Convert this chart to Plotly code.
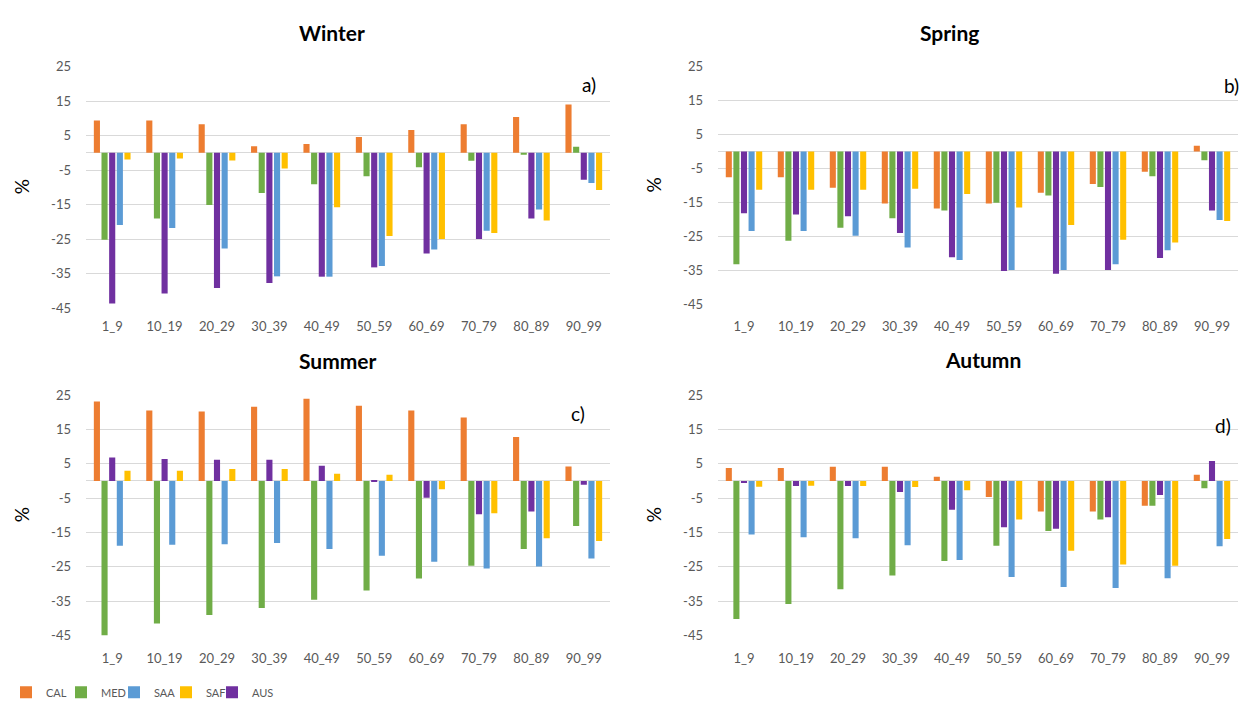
import plotly.graph_objects as go

# Age classes on the category axis
age_classes = ["1_9", "10_19", "20_29", "30_39", "40_49",
               "50_59", "60_69", "70_79", "80_89", "90_99"]

# Percentage change per region, one list per season
winter_cal = [9.4, 9.4, 8.3, 1.9, 2.6, 4.6, 6.6, 8.3, 10.4, 14.0]
winter_med = [-25.2, -19.0, -15.1, -11.6, -9.1, -6.8, -4.2, -2.3, -0.4, 1.8]
winter_aus = [-43.7, -40.8, -39.2, -37.7, -35.9, -33.2, -29.2, -25.0, -19.0, -7.8]
winter_saa = [-20.9, -21.8, -27.7, -35.8, -35.9, -32.8, -28.0, -22.6, -16.4, -8.7]
winter_saf = [-1.9, -1.6, -2.2, -4.5, -15.8, -24.1, -25.0, -23.2, -19.6, -10.8]

spring_cal = [-7.6, -7.6, -10.7, -15.3, -16.8, -15.3, -12.2, -9.6, -6.0, 1.7]
spring_med = [-33.2, -26.3, -22.5, -19.7, -17.4, -15.1, -13.0, -10.5, -7.3, -2.6]
spring_aus = [-18.2, -18.6, -19.1, -24.0, -31.2, -35.2, -36.0, -34.9, -31.4, -17.4]
spring_saa = [-23.4, -23.4, -24.8, -28.3, -32.0, -34.9, -34.9, -33.2, -29.1, -20.2]
spring_saf = [-11.3, -11.3, -11.3, -11.0, -12.5, -16.5, -21.7, -26.0, -26.8, -20.5]

summer_cal = [23.1, 20.5, 20.2, 21.6, 23.9, 21.9, 20.5, 18.5, 12.8, 4.2]
summer_med = [-45.0, -41.5, -39.0, -37.0, -34.6, -31.9, -28.4, -24.7, -19.8, -13.1]
summer_aus = [6.8, 6.4, 6.2, 6.2, 4.4, -0.3, -4.9, -9.7, -8.9, -1.1]
summer_saa = [-18.9, -18.6, -18.4, -18.1, -19.8, -21.8, -23.5, -25.5, -24.9, -22.6]
summer_saf = [3.0, 3.0, 3.5, 3.5, 2.1, 1.8, -2.4, -9.4, -16.7, -17.5]

autumn_cal = [3.8, 3.8, 4.1, 4.1, 1.2, -4.7, -8.9, -8.9, -7.2, 1.8]
autumn_med = [-40.2, -35.8, -31.5, -27.5, -23.3, -18.9, -14.6, -11.2, -7.2, -2.1]
autumn_aus = [-0.6, -1.5, -1.5, -3.2, -8.4, -13.5, -13.9, -10.6, -4.1, 5.8]
autumn_saa = [-15.6, -16.4, -16.7, -18.7, -23.0, -28.0, -30.9, -31.2, -28.3, -19.0]
autumn_saf = [-1.7, -1.4, -1.5, -1.8, -2.7, -11.2, -20.3, -24.3, -24.7, -16.9]

y_ticks = [25, 15, 5, -5, -15, -25, -35, -45]

W, H = 1241, 709
FONT = "Lato"
TICK_COLOR = "#595959"
GRID_COLOR = "#D9D9D9"

# Series drawn left-to-right inside each group, with the legend slot each uses
# and the pixel x where that legend entry starts
series_style = [
    ("CAL", "#ED7D31", "legend", 6),
    ("MED", "#70AD47", "legend2", 61),
    ("AUS", "#7030A0", "legend5", 212),
    ("SAA", "#5B9BD5", "legend3", 114),
    ("SAF", "#FFC000", "legend4", 166),
]

# title, tag, data, plot x-span, plot y-span, title centre, tag right edge / centre y,
# category label standoff
panels = [
    ("Winter", "a)", [winter_cal, winter_med, winter_aus, winter_saa, winter_saf],
     (86, 610), (60, 307), (332, 25), (598, 78), 9),
    ("Spring", "b)", [spring_cal, spring_med, spring_aus, spring_saa, spring_saf],
     (718, 1238), (60, 303), (950, 25), (1241, 79), 13),
    ("Summer", "c)", [summer_cal, summer_med, summer_aus, summer_saa, summer_saf],
     (86, 610), (396, 642), (338, 361), (587, 415), 13),
    ("Autumn", "d)", [autumn_cal, autumn_med, autumn_aus, autumn_saa, autumn_saf],
     (718, 1238), (396, 642), (983, 360), (1233, 427), 13),
]

fig = go.Figure()
annotations = []
layout_axes = {}

for i, (title, tag, values, (x0, x1), (ytop, ybot), (tx, ty), (gx, gy), stand) in enumerate(panels):
    n = "" if i == 0 else str(i + 1)
    xa, ya = "x" + n, "y" + n
    for (name, color, leg, _), vals in zip(series_style, values):
        fig.add_trace(go.Bar(
            x=age_classes, y=vals, name=name, marker_color=color,
            marker_line_width=0, xaxis=xa, yaxis=ya,
            legendgroup=name, legend=leg, showlegend=(i == 0),
        ))
    layout_axes["xaxis" + n] = dict(
        domain=[x0 / W, x1 / W], anchor=ya, type="category",
        showgrid=False, showline=False, ticks="", zeroline=False,
        ticklabelstandoff=stand,
        tickfont=dict(family=FONT, size=13, color=TICK_COLOR),
    )
    layout_axes["yaxis" + n] = dict(
        domain=[1 - ybot / H, 1 - ytop / H], anchor=xa,
        range=[-45, 25], tickvals=y_ticks, ticktext=[str(t) for t in y_ticks],
        showgrid=True, gridcolor=GRID_COLOR, gridwidth=1,
        zeroline=True, zerolinecolor=GRID_COLOR, zerolinewidth=1,
        showline=False, ticks="", ticklabelstandoff=14,
        tickfont=dict(family=FONT, size=13, color=TICK_COLOR),
    )
    annotations.append(dict(
        text="<b>" + title + "</b>", x=tx / W, y=1 - ty / H,
        xref="paper", yref="paper", showarrow=False, xanchor="center",
        yanchor="middle", font=dict(family=FONT, size=21, color="#000000"),
    ))
    annotations.append(dict(
        text="%", x=(x0 - 65) / W, y=1 - (ytop + ybot) / 2 / H,
        xref="paper", yref="paper", showarrow=False, textangle=-90,
        xanchor="center", yanchor="middle",
        font=dict(family=FONT, size=19, color="#000000"),
    ))
    annotations.append(dict(
        text=tag, x=gx / W, y=1 - gy / H,
        xref="paper", yref="paper", showarrow=False, xanchor="right",
        yanchor="middle", font=dict(family=FONT, size=19, color="#000000"),
    ))

# One single-entry legend per series, laid out in a row along the bottom
legend_layout = {}
for name, color, leg, lx in series_style:
    legend_layout[leg] = dict(
        x=lx / W, y=1 - 700 / H, xanchor="left", yanchor="middle",
        orientation="h", bgcolor="rgba(0,0,0,0)", borderwidth=0,
        font=dict(family=FONT, size=11, color=TICK_COLOR),
    )

fig.update_layout(
    width=W, height=H,
    margin=dict(l=0, r=0, t=0, b=0),
    paper_bgcolor="white", plot_bgcolor="white",
    barmode="group", bargap=0.27, bargroupgap=0.2,
    showlegend=True,
    annotations=annotations,
    **legend_layout,
    **layout_axes,
)

fig.write_html("out.html")
